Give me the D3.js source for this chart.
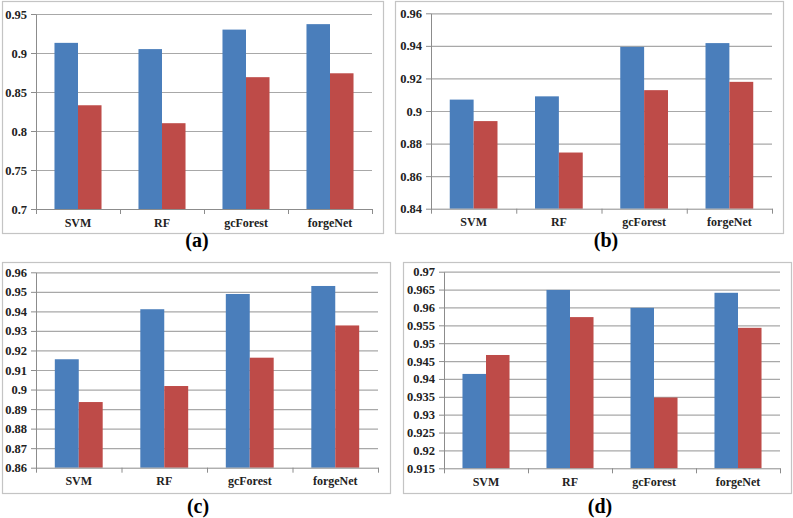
<!DOCTYPE html>
<html>
<head>
<meta charset="utf-8">
<script src="https://cdn.jsdelivr.net/npm/d3@7"></script>
<style>
  body { margin: 0; background: #fff; }
  svg { display: block; }
</style>
</head>
<body>
<div id="chart"></div>
<script>
// data
var categories = ["SVM", "RF", "gcForest", "forgeNet"]

var blueA = [0.913, 0.905, 0.930, 0.937]
var redA  = [0.833, 0.810, 0.869, 0.874]
var ticksA = [0.7, 0.75, 0.8, 0.85, 0.9, 0.95]
var labelsA = ["0.7", "0.75", "0.8", "0.85", "0.9", "0.95"]

var blueB = [0.907, 0.909, 0.9394, 0.9417]
var redB  = [0.8938, 0.8745, 0.9128, 0.9179]
var ticksB = [0.84, 0.86, 0.88, 0.9, 0.92, 0.94, 0.96]
var labelsB = ["0.84", "0.86", "0.88", "0.9", "0.92", "0.94", "0.96"]

var blueC = [0.9155, 0.9411, 0.9489, 0.953]
var redC  = [0.8936, 0.9018, 0.9163, 0.9328]
var ticksC = [0.86, 0.87, 0.88, 0.89, 0.9, 0.91, 0.92, 0.93, 0.94, 0.95, 0.96]
var labelsC = ["0.86", "0.87", "0.88", "0.89", "0.9", "0.91", "0.92", "0.93", "0.94", "0.95", "0.96"]

var blueD = [0.9414, 0.9649, 0.9599, 0.9641]
var redD  = [0.9467, 0.9573, 0.9348, 0.9543]
var ticksD = [0.915, 0.92, 0.925, 0.93, 0.935, 0.94, 0.945, 0.95, 0.955, 0.96, 0.965, 0.97]
var labelsD = ["0.915", "0.92", "0.925", "0.93", "0.935", "0.94", "0.945", "0.95", "0.955", "0.96", "0.965", "0.97"]

var panelNames = ["(a)", "(b)", "(c)", "(d)"]

var width = 793
var height = 518
var blue = "#4a7ebb"
var red = "#be4b48"
var gridColor = "#a8a8a8"
var axisColor = "#8c8c8c"
var serif = "'Liberation Serif', 'Times New Roman', serif"

var svg = d3.select("#chart")
    .append("svg")
    .attr("width", width)
    .attr("height", height)

// frame box, plot area, caption position for each panel
var panels = [
    { frame: [2, 1, 383, 233], plot: [36, 14, 372, 209], cap: [197, 247], blue: blueA, red: redA, ticks: ticksA, labels: labelsA },
    { frame: [395, 1, 783, 233], plot: [431, 13.3, 772, 208.7], cap: [606, 247], blue: blueB, red: redB, ticks: ticksB, labels: labelsB },
    { frame: [2, 262, 390, 493], plot: [36, 272.3, 378, 467.7], cap: [198, 513], blue: blueC, red: redC, ticks: ticksC, labels: labelsC },
    { frame: [403, 262, 791, 493], plot: [444, 271.7, 780, 468.3], cap: [600, 513], blue: blueD, red: redD, ticks: ticksD, labels: labelsD }
]

panels.forEach(function(p, i) { drawPanel(p, panelNames[i]) })

function drawPanel(p, name) {
    var g = svg.append("g")

    g.append("rect")
        .attr("x", p.frame[0] + 0.5)
        .attr("y", p.frame[1] + 0.5)
        .attr("width", p.frame[2] - p.frame[0])
        .attr("height", p.frame[3] - p.frame[1])
        .attr("fill", "none")
        .attr("stroke", "#c4c4c4")
        .attr("stroke-width", 1.2)

    var left = p.plot[0], top = p.plot[1], right = p.plot[2], bottom = p.plot[3]

    var y = d3.scaleLinear()
        .domain([p.ticks[0], p.ticks[p.ticks.length - 1]])
        .range([bottom, top])

    var x0 = d3.scaleBand()
        .domain(categories)
        .range([left, right])
        .padding(0)

    var x1 = d3.scaleBand()
        .domain(["blue", "red"])
        .range([x0.bandwidth() * 0.22, x0.bandwidth() * 0.78])
        .padding(0)

    // gridlines
    var grid = g.append("g")
        .attr("transform", "translate(" + left + ",0)")
        .call(d3.axisRight(y).tickValues(p.ticks.slice(1)).tickSize(right - left).tickFormat(""))
    grid.select(".domain").remove()
    grid.selectAll("line").attr("stroke", gridColor).attr("stroke-width", 1.2)

    // bars
    var rows = categories.map(function(c, k) { return { cat: c, blue: p.blue[k], red: p.red[k] } })
    var groups = g.selectAll(".cat")
        .data(rows)
        .enter()
        .append("g")
        .attr("transform", function(d) { return "translate(" + x0(d.cat) + ",0)" })

    groups.selectAll("rect")
        .data(function(d) { return [{ key: "blue", v: d.blue }, { key: "red", v: d.red }] })
        .enter()
        .append("rect")
        .attr("x", function(d) { return x1(d.key) })
        .attr("y", function(d) { return y(d.v) })
        .attr("width", x1.bandwidth())
        .attr("height", function(d) { return bottom - y(d.v) })
        .attr("fill", function(d) { return d.key == "blue" ? blue : red })

    // y axis
    var yAxis = g.append("g")
        .attr("transform", "translate(" + left + ",0)")
        .call(d3.axisLeft(y).tickValues(p.ticks).tickFormat(function(d, k) { return p.labels[k] }).tickSize(5).tickSizeOuter(0))
    yAxis.select(".domain").attr("stroke", axisColor)
    yAxis.selectAll("line").attr("stroke", axisColor)
    yAxis.selectAll("text")
        .attr("x", -9)
        .attr("fill", "#222")
        .style("font-family", serif)
        .style("font-weight", "bold")
        .style("font-size", "12.5px")

    // x axis: ticks sit between categories
    var xb = d3.scaleLinear().domain([0, categories.length]).range([left, right])
    var xAxis = g.append("g")
        .attr("transform", "translate(0," + bottom + ")")
        .call(d3.axisBottom(xb).tickValues(d3.range(categories.length + 1)).tickFormat("").tickSize(5).tickSizeOuter(0))
    xAxis.select(".domain").attr("stroke", axisColor)
    xAxis.selectAll("line").attr("stroke", axisColor)

    var xLab = g.append("g")
        .attr("transform", "translate(0," + bottom + ")")
        .call(d3.axisBottom(x0).tickSize(0))
    xLab.select(".domain").remove()
    xLab.selectAll("text")
        .attr("y", 9)
        .attr("fill", "#222")
        .style("font-family", serif)
        .style("font-weight", "bold")
        .style("font-size", "12px")

    g.append("text")
        .attr("x", p.cap[0])
        .attr("y", p.cap[1])
        .attr("text-anchor", "middle")
        .style("font-family", serif)
        .style("font-weight", "bold")
        .style("font-size", "20px")
        .text(name)
}
</script>
</body>
</html>
